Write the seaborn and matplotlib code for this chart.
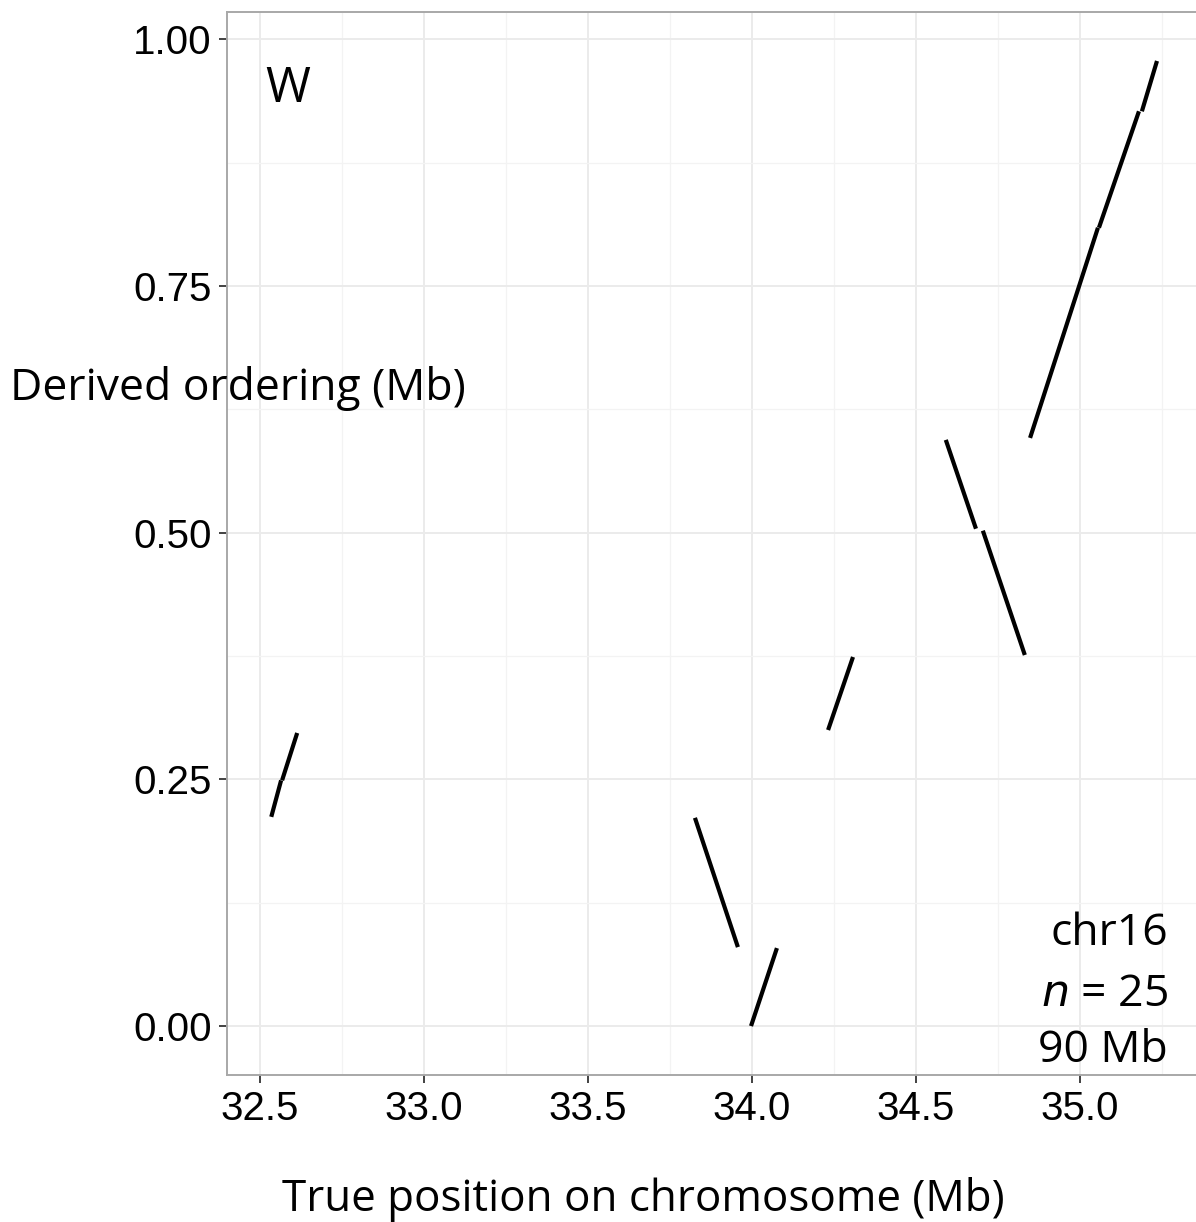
import pandas as pd
import numpy as np
import seaborn as sns
import matplotlib.pyplot as plt
from matplotlib.ticker import MultipleLocator

## segment data (Mb)
seg_x0 = [32.534, 32.567, 33.826, 33.997, 34.232, 34.591, 34.704, 34.848, 35.058, 35.189]
seg_x1 = [32.564, 32.613, 33.957, 34.076, 34.308, 34.683, 34.832, 35.055, 35.180, 35.235]
seg_y0 = [0.212, 0.249, 0.211, 0.000, 0.300, 0.594, 0.502, 0.596, 0.809, 0.927]
seg_y1 = [0.249, 0.297, 0.080, 0.079, 0.374, 0.504, 0.376, 0.809, 0.927, 0.978]

x_ticks = [32.5, 33.0, 33.5, 34.0, 34.5, 35.0]
y_ticks = [0.00, 0.25, 0.50, 0.75, 1.00]
panel = "W"
info = ["chr16", "$\\it{n}$ = 25", "90 Mb"]

# long format, one unit per segment
segs = pd.DataFrame({
    'seg': np.repeat(np.arange(len(seg_x0)), 2),
    'x': np.ravel(np.column_stack([seg_x0, seg_x1])),
    'y': np.ravel(np.column_stack([seg_y0, seg_y1])),
})

sns.set_style('white')
plt.rcParams['font.family'] = ['Liberation Sans', 'DejaVu Sans']

fig = plt.figure(figsize=(11.96, 12.22), dpi=100)
ax = fig.add_axes([0.1898, 0.1203, 0.8102, 0.8697])

sns.lineplot(data=segs, x='x', y='y', units='seg', estimator=None, sort=False,
             color='black', lw=3.0, solid_capstyle='butt', legend=False, ax=ax)

ax.set_xlim(32.399, 35.354)
ax.set_ylim(-0.0496, 1.0274)
ax.set_xticks(x_ticks)
ax.set_yticks(y_ticks)
ax.set_xticklabels([f"{v:.1f}" for v in x_ticks])
ax.set_yticklabels([f"{v:.2f}" for v in y_ticks])
ax.xaxis.set_minor_locator(MultipleLocator(0.25))
ax.yaxis.set_minor_locator(MultipleLocator(0.125))
ax.grid(which='major', color='#ebebeb', lw=1.4)
ax.grid(which='minor', color='#f3f3f3', lw=0.9)
ax.set_axisbelow(True)
ax.tick_params(which='major', direction='out', length=6, width=1.3, color='#333333',
               labelsize=29, labelcolor='black', pad=5, bottom=True, left=True)
ax.tick_params(which='minor', length=0)
for side in ['left', 'top', 'bottom']:
    ax.spines[side].set_color('#a8a8a8')
    ax.spines[side].set_linewidth(1.4)
ax.spines['right'].set_visible(False)
ax.set_xlabel('')
ax.set_ylabel('')

txt = dict(family=['Open Sans', 'DejaVu Sans'], color='black')
fig.text(0.2216, 0.9165, panel, fontsize=35, va='baseline', ha='left', **txt)
fig.text(0.0084, 0.673, "Derived ordering (Mb)", fontsize=32, va='baseline', ha='left', **txt)
fig.text(0.5376, 0.009, "True position on chromosome (Mb)", fontsize=31.6, va='baseline', ha='center', **txt)
for line, yb in zip(info, [945, 1006, 1062]):
    fig.text(0.9766, 1 - yb / 1222, line, fontsize=32, va='baseline', ha='right', **txt)

fig.savefig('out.png', dpi=100)
